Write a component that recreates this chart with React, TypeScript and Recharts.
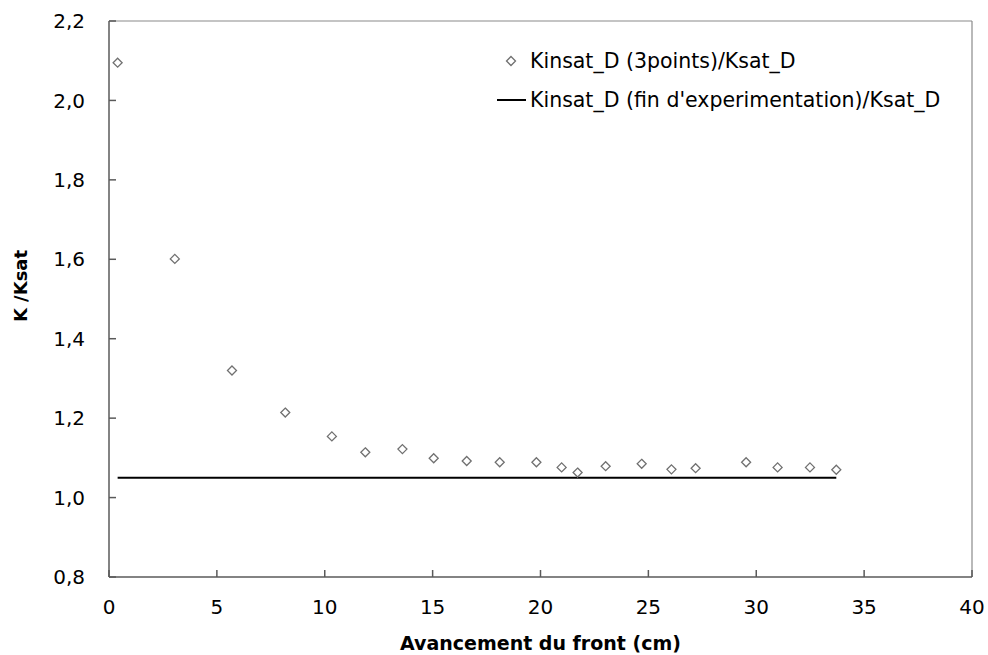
import React from 'react';
import { ComposedChart, Scatter, Line, XAxis, YAxis, ReferenceLine, Label } from 'recharts';

// Avancement du front (cm) et rapport K/Ksat mesuré
const avancement = [0.4, 3.05, 5.7, 8.17, 10.33, 11.88, 13.6, 15.05, 16.58, 18.11, 19.81, 20.98, 21.72, 23.02, 24.69, 26.07, 27.19, 29.53, 30.99, 32.49, 33.71];
const rapportK = [2.095, 1.601, 1.32, 1.214, 1.154, 1.114, 1.122, 1.099, 1.092, 1.089, 1.089, 1.076, 1.063, 1.079, 1.085, 1.071, 1.074, 1.089, 1.076, 1.076, 1.07];

// Valeur en fin d'expérimentation
const finX = [0.4, 33.71];
const finK = [1.05, 1.05];

const xTicks = [0, 5, 10, 15, 20, 25, 30, 35, 40];
const yTicks = [0.8, 1.0, 1.2, 1.4, 1.6, 1.8, 2.0, 2.2];

const pointsData = avancement.map((x, i) => ({ x, y: rapportK[i] }));
const finData = finX.map((x, i) => ({ x, y: finK[i] }));

const FONT = '"DejaVu Sans", Verdana, sans-serif';
const AXIS = '#5a5a5a';

const Diamond = (props: any) => {
  const { cx, cy } = props;
  const r = 4.5;
  return <path d={`M${cx},${cy - r}L${cx + r},${cy}L${cx},${cy + r}L${cx - r},${cy}Z`} fill="#fff" stroke="#707070" strokeWidth={1.3} />;
};

const Legende = () => (
  <div style={{ position: 'absolute', left: 492, top: 41, fontFamily: FONT, fontSize: 20.5, color: '#000', whiteSpace: 'nowrap' }}>
    <div style={{ display: 'flex', alignItems: 'center', height: 39 }}>
      <svg width={38} height={20}>
        <path d="M19,5.5L23.5,10L19,14.5L14.5,10Z" fill="#fff" stroke="#707070" strokeWidth={1.3} />
      </svg>
      <span>Kinsat_D (3points)/Ksat_D</span>
    </div>
    <div style={{ display: 'flex', alignItems: 'center', height: 39 }}>
      <svg width={38} height={20}>
        <line x1={5} y1={10} x2={34} y2={10} stroke="#000" strokeWidth={2} />
      </svg>
      <span>Kinsat_D (fin d'experimentation)/Ksat_D</span>
    </div>
  </div>
);

const yLabel = () => (
  <text x={20} y={286} transform="rotate(-90, 20, 286)" textAnchor="middle" dominantBaseline="central" style={{ fontFamily: FONT, fontSize: 18, fontWeight: 'bold', fill: '#000' }}>
    K /Ksat
  </text>
);

export default function App() {
  return (
    <div style={{ position: 'absolute', left: 0, top: 0, width: 988, height: 655, background: '#fff' }}>
      <ComposedChart width={988} height={655} margin={{ top: 21, right: 16, left: 0, bottom: 0 }}>
        <XAxis
          type="number"
          dataKey="x"
          domain={[0, 40]}
          ticks={xTicks}
          allowDataOverflow
          height={78}
          stroke={AXIS}
          strokeWidth={1.5}
          tickSize={-7}
          tickMargin={30}
          tick={{ fill: '#000', fontSize: 20, fontFamily: FONT }}
        >
          <Label value="Avancement du front (cm)" position="insideBottom" offset={5} style={{ fontFamily: FONT, fontSize: 19, fontWeight: 'bold', fill: '#000' }} />
        </XAxis>
        <YAxis
          type="number"
          dataKey="y"
          domain={[0.8, 2.2]}
          ticks={yTicks}
          allowDataOverflow
          width={109}
          stroke={AXIS}
          strokeWidth={1.5}
          tickSize={-7}
          tickMargin={31}
          tickFormatter={(v: number) => v.toFixed(1).replace('.', ',')}
          tick={{ fill: '#000', fontSize: 20, fontFamily: FONT }}
        >
          <Label content={yLabel} />
        </YAxis>
        <ReferenceLine y={2.2} stroke="#8a8a8a" strokeWidth={1.2} />
        <ReferenceLine x={40} stroke="#8a8a8a" strokeWidth={1.2} />
        <Line data={finData} dataKey="y" stroke="#000" strokeWidth={2} dot={false} isAnimationActive={false} legendType="none" />
        <Scatter data={pointsData} dataKey="y" shape={Diamond} isAnimationActive={false} />
      </ComposedChart>
      <Legende />
    </div>
  );
}
